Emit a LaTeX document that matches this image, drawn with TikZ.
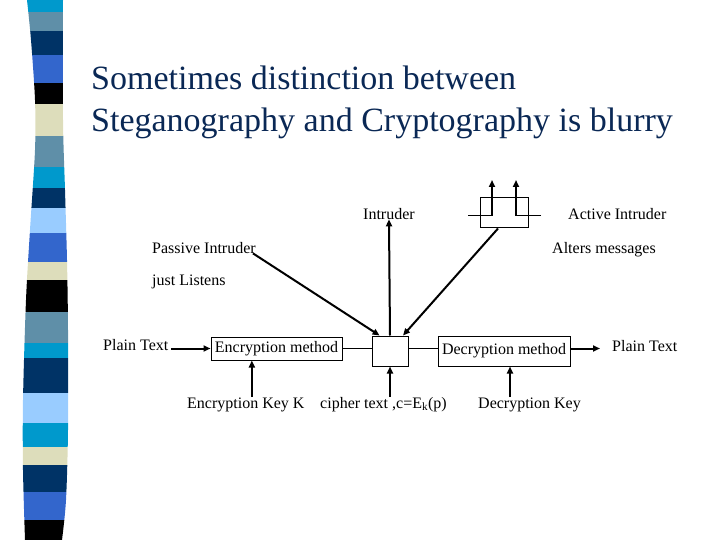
\documentclass[tikz,border=0pt]{standalone}
\usepackage{fontspec}
\setmainfont{Liberation Serif}
\usetikzlibrary{arrows.meta}

\definecolor{stcyan}{RGB}{0,153,204}
\definecolor{stgrey}{RGB}{95,143,168}
\definecolor{stnavy}{RGB}{0,51,102}
\definecolor{stroyal}{RGB}{51,102,204}
\definecolor{stbeige}{RGB}{221,221,187}
\definecolor{stlight}{RGB}{153,204,255}
\definecolor{titlenavy}{RGB}{10,40,85}

\begin{document}
\begin{tikzpicture}[x=1pt, y=-1pt,
  every node/.style={inner sep=0pt, font=\fontsize{16}{19}\selectfont},
  lbl/.style={anchor=base west},
  titletext/.style={anchor=base west, text=titlenavy, font=\fontsize{34}{41}\selectfont},
  box/.style 2 args={draw, line width=1pt, minimum width=#1, minimum height=#2},
  wire/.style={line width=1pt},
  arr/.style={line width=2pt, -{Triangle[length=7pt,width=6pt]}}]
\useasboundingbox (0,0) rectangle (720,540);

\begin{scope}
\clip plot[smooth] coordinates {(27,0) (31,40) (35,100) (35,150) (30,230) (26,300) (23,400) (23,470) (25,540)}
  -- plot[smooth] coordinates {(62,540) (66,500) (68,430) (68,330) (67,260) (65,190) (63,120) (63,0)} -- cycle;
\foreach \ta/\tb/\col in {0/12/stcyan, 12/31/stgrey, 31/55/stnavy, 55/83/stroyal, 83/104/black,
  104/136/stbeige, 136/167/stgrey, 167/188/stcyan, 188/208/stnavy, 208/233/stlight,
  233/262/stroyal, 262/280/stbeige, 280/312/black, 312/343/stgrey, 343/358/stcyan,
  358/393/stnavy, 393/423/stlight, 423/447/stcyan, 447/465/stbeige, 465/492/stnavy,
  492/520/stroyal, 520/540/black}
  \fill[\col] (0,\ta) rectangle (80,\tb);
\end{scope}

\node[titletext] (title1) at (91,90) {Sometimes distinction between};
\node[titletext] (title2) at (91,132) {Steganography and Cryptography is blurry};

\node[lbl] (intr) at (363,219) {Intruder};
\node[lbl] (actlbl) at (568,219) {Active Intruder};
\node[lbl] (alters) at (552,253) {Alters messages};
\node[lbl] (pass) at (152,253) {Passive Intruder};
\node[lbl] (listen) at (152,285) {just Listens};
\node[lbl] (plainin) at (103,350) {Plain Text};
\node[lbl] (plainout) at (612,351) {Plain Text};
\node[lbl] (enckey) at (187,408) {Encryption Key K};
\node[lbl] (cipher) at (320,408) {cipher text ,c=E\textsubscript{k}(p)};
\node[lbl] (deckey) at (478,408) {Decryption Key};

\node[box={131pt}{23pt}] (enc) at (276.5,348.5) {Encryption method};
\node[box={36pt}{30pt}] (tap) at (390,351) {};
\node[box={132pt}{30pt}] (dec) at (504,351) {Decryption method};
\node[box={48pt}{30pt}] (active) at (504,213) {};

\coordinate (al) at (468,216);
\coordinate (ar) at (541,216);
\coordinate (aup1) at (492,180);
\coordinate (aup2) at (516,180);

\draw[arr] ([xshift=3pt]plainin.east |- enc.west) -- (enc.west);
\draw[wire] (enc.east) -- (enc.east -| tap.west);
\draw[wire] (tap.east |- enc.east) -- (dec.west |- enc.east);
\draw[arr] (dec.east |- enc.east) -- ([xshift=-12pt]plainout.west |- enc.east);
\draw[arr] ([xshift=6pt]enckey.north) -- ([xshift=6pt]enckey.north |- enc.south);
\draw[arr] (cipher.north -| tap.south) -- (tap.south);
\draw[arr] ([xshift=6pt]dec.south |- deckey.north) -- ([xshift=6pt]dec.south);
\draw[arr] (tap.north) -- (intr.south);
\draw[arr] ([xshift=-3pt]pass.south east) -- (tap.124);
\draw[arr] ([xshift=-6pt]active.south) -- (tap.50);
\draw[wire] (al) -- (al -| aup1);
\draw[arr] (al -| aup1) -- (aup1);
\draw[wire] (ar) -- (ar -| aup2);
\draw[arr] (ar -| aup2) -- (aup2);
\end{tikzpicture}
\end{document}
